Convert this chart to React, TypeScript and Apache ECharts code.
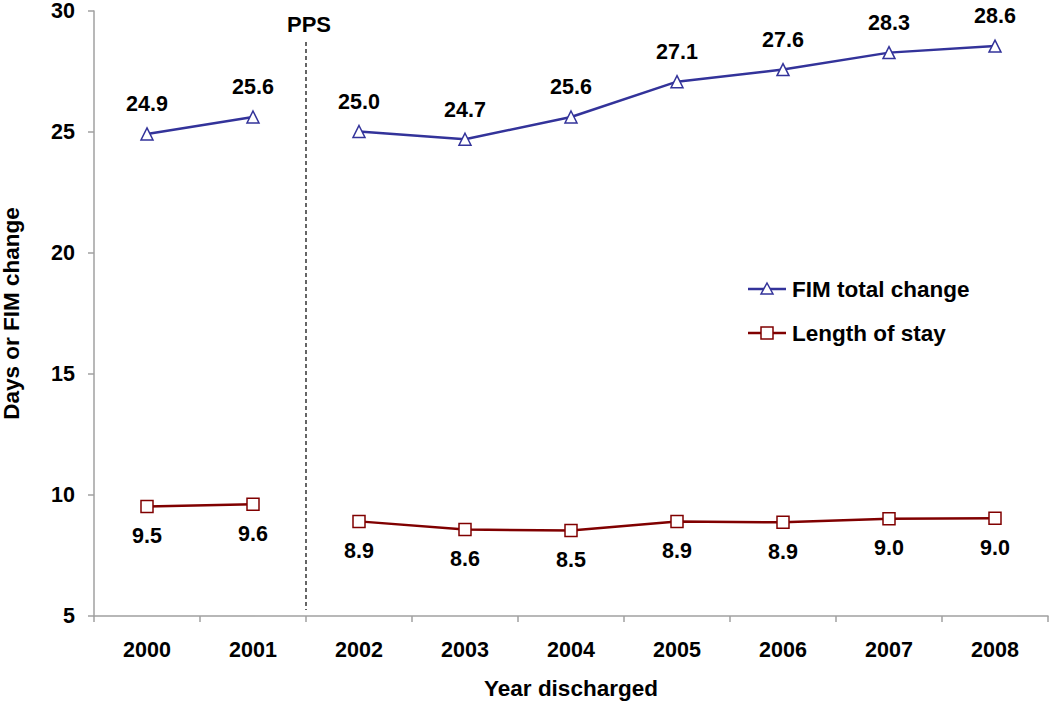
import React, { useEffect, useRef } from "react";
import * as echarts from "echarts";

const years = ["2000", "2001", "2002", "2003", "2004", "2005", "2006", "2007", "2008"];
const fimChange = [24.92, 25.62, 25.02, 24.7, 25.62, 27.08, 27.58, 28.28, 28.55];
const lengthOfStay = [9.52, 9.62, 8.91, 8.57, 8.53, 8.9, 8.87, 9.02, 9.04];
const segments = [
  [0, 1],
  [2, 8],
];
const yTicks = { min: 5, max: 30, interval: 5 };

const FONT = "'Liberation Sans', Arial, sans-serif";
const BLUE = "#33339A";
const RED = "#800000";

export default function App() {
  const ref = useRef<HTMLDivElement>(null);
  useEffect(() => {
    if (!ref.current) return;
    const chart = echarts.init(ref.current, null, { renderer: "svg" });
    const gridLeft = 94;
    const gridRight = 2;
    const gridTop = 11;
    const gridBottom = 85;
    const W = 1050;
    const plotW = W - gridLeft - gridRight;
    const pps = gridLeft + (2 * plotW) / years.length;

    const mk = (name: string, vals: number[], color: string, symbol: string, pos: "top" | "bottom") =>
      segments.map(([a, b]) => ({
        name,
        type: "line",
        data: vals.map((v, i) => (i >= a && i <= b ? v : "-")),
        symbol,
        symbolSize: 12,
        lineStyle: { color, width: 2.5 },
        itemStyle: { color: "#ffffff", borderColor: color, borderWidth: 1.5 },
        label: {
          show: true,
          position: pos,
          distance: 12,
          formatter: (p: any) => Number(p.value).toFixed(1),
          color: "#000",
          fontFamily: FONT,
          fontWeight: "bold",
          fontSize: 21.5,
        },
        z: 3,
      }));

    const legendItem = (y: number, color: string, symbol: "tri" | "sq", text: string) => {
      const cx = 767;
      const els: any[] = [
        { type: "line", shape: { x1: 748, y1: y, x2: 786, y2: y }, style: { stroke: color, lineWidth: 2.5 } },
      ];
      if (symbol === "tri") {
        els.push({
          type: "polygon",
          shape: { points: [[cx, y - 6], [cx + 6, y + 5], [cx - 6, y + 5]] },
          style: { fill: "#fff", stroke: color, lineWidth: 1.5 },
        });
      } else {
        els.push({
          type: "rect",
          shape: { x: cx - 6, y: y - 6, width: 12, height: 12 },
          style: { fill: "#fff", stroke: color, lineWidth: 1.5 },
        });
      }
      els.push({
        type: "text",
        x: 792,
        y,
        style: { text, fill: "#000", font: `bold 22.5px ${FONT}`, textVerticalAlign: "middle", verticalAlign: "middle" },
      });
      return els;
    };

    chart.setOption({
      animation: false,
      backgroundColor: "#ffffff",
      grid: {
        left: gridLeft,
        right: gridRight,
        top: gridTop,
        bottom: gridBottom,
        containLabel: false,
        outerBoundsMode: "none",
      },
      xAxis: {
        type: "category",
        data: years,
        boundaryGap: true,
        name: "Year discharged",
        nameLocation: "middle",
        nameGap: 61,
        nameMoveOverlap: false,
        nameTextStyle: { fontFamily: FONT, fontWeight: "bold", fontSize: 22.5, color: "#000" },
        axisLine: { lineStyle: { color: "#A0A0A0", width: 1.5 } },
        axisTick: { show: true, length: 6, lineStyle: { color: "#A0A0A0", width: 1.5 } },
        axisLabel: { margin: 23, fontFamily: FONT, fontWeight: "bold", fontSize: 21.5, color: "#000" },
        splitLine: { show: false },
      },
      yAxis: {
        type: "value",
        min: yTicks.min,
        max: yTicks.max,
        interval: yTicks.interval,
        name: "Days or FIM change",
        nameLocation: "middle",
        nameGap: 71,
        nameMoveOverlap: false,
        nameRotate: 90,
        nameTextStyle: { fontFamily: FONT, fontWeight: "bold", fontSize: 22.5, color: "#000" },
        axisLine: { show: true, lineStyle: { color: "#A0A0A0", width: 1.5 } },
        axisTick: { show: true, length: 6, lineStyle: { color: "#A0A0A0", width: 1.5 } },
        axisLabel: {
          margin: 19,
          fontFamily: FONT,
          fontWeight: "bold",
          fontSize: 21.5,
          lineHeight: 17,
          color: "#000",
        },
        splitLine: { show: false },
      },
      series: [
        ...mk("FIM total change", fimChange, BLUE, "triangle", "top"),
        ...mk("Length of stay", lengthOfStay, RED, "rect", "bottom"),
      ],
      graphic: [
        {
          type: "line",
          shape: { x1: pps, y1: 42, x2: pps, y2: 610 },
          style: { stroke: "#000", lineWidth: 1.2, lineDash: [4, 3] },
        },
        {
          type: "text",
          x: pps + 3,
          y: 24,
          style: {
            text: "PPS",
            fill: "#000",
            font: `bold 22px ${FONT}`,
            textAlign: "center",
            align: "center",
            textVerticalAlign: "middle",
            verticalAlign: "middle",
          },
        },
        ...legendItem(289, BLUE, "tri", "FIM total change"),
        ...legendItem(333, RED, "sq", "Length of stay"),
      ],
    });
    return () => chart.dispose();
  }, []);
  return <div ref={ref} style={{ position: "fixed", left: 0, top: 0, width: 1050, height: 701 }} />;
}
